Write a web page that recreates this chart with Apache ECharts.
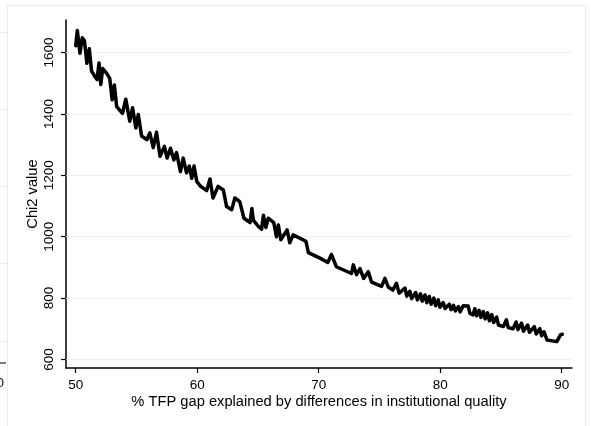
<!DOCTYPE html>
<html>
<head>
<meta charset="utf-8">
<script src="https://cdn.jsdelivr.net/npm/echarts@6/dist/echarts.min.js"></script>
<style>
  html, body { margin: 0; padding: 0; background: #fff; }
  #chart { width: 591px; height: 426px; }
</style>
</head>
<body>
<div id="chart"></div>
<script>
// x: % TFP gap explained, y: Chi2 value
const gapShare = [
  50.0, 50.13, 50.35, 50.54, 50.72, 50.92, 51.12, 51.3, 51.6, 51.75,
  51.92, 52.06, 52.22, 52.55, 52.8, 53.0, 53.18, 53.37, 53.85, 54.12,
  54.45, 54.68, 54.95, 55.15, 55.42, 55.85, 56.1, 56.38, 56.65, 56.94,
  57.3, 57.52, 57.8, 58.08, 58.3, 58.62, 58.85, 59.12, 59.35, 59.55,
  59.74, 59.96, 60.25, 60.78, 61.05, 61.3, 61.72, 62.15, 62.42, 62.84,
  63.1, 63.5, 63.85, 64.35, 64.5, 64.62, 65.02, 65.3, 65.45, 65.65,
  65.85, 66.3, 66.52, 66.68, 66.88, 67.4, 67.62, 67.9, 68.95, 69.15,
  70.1, 70.75, 71.05, 71.45, 72.7, 72.85, 73.12, 73.4, 73.7, 74.08,
  74.35, 75.18, 75.45, 75.72, 76.1, 76.4, 76.62, 77.1, 77.25, 77.5,
  77.65, 77.98, 78.12, 78.38, 78.52, 78.75, 78.9, 79.1, 79.25, 79.48,
  79.62, 79.84, 79.98, 80.25, 80.4, 80.75, 80.9, 81.1, 81.25, 81.5,
  81.65, 81.9, 82.3, 82.45, 82.7, 82.85, 83.0, 83.2, 83.35, 83.55,
  83.7, 83.9, 84.05, 84.25, 84.4, 84.65, 84.8, 85.2, 85.45, 85.6,
  86.0, 86.25, 86.4, 86.7, 86.85, 87.2, 87.35, 87.75, 87.9, 88.2,
  88.35, 88.55, 88.8, 89.6, 89.75, 89.9, 90.05
];
const chi2Values = [
  1622, 1672, 1598, 1648, 1638, 1565, 1612, 1540, 1520, 1512,
  1566, 1496, 1548, 1532, 1516, 1446, 1494, 1424, 1402, 1448,
  1376, 1420, 1354, 1398, 1328, 1316, 1338, 1290, 1340, 1262,
  1294, 1256, 1288, 1250, 1274, 1212, 1256, 1208, 1230, 1190,
  1230, 1180, 1165, 1150, 1188, 1126, 1164, 1152, 1098, 1088,
  1126, 1114, 1060, 1046, 1092, 1054, 1034, 1024, 1070, 1030,
  1060, 1046, 1000, 1038, 990, 1022, 980, 1006, 985, 948,
  930, 916, 942, 902, 880, 908, 876, 896, 864, 886,
  852, 838, 864, 836, 826, 848, 816, 832, 806, 822,
  798, 818, 794, 814, 790, 810, 785, 805, 780, 800,
  775, 794, 770, 785, 766, 780, 762, 776, 758, 772,
  755, 775, 774, 750, 745, 765, 742, 760, 737, 756,
  732, 752, 726, 746, 720, 738, 712, 707, 729, 704,
  700, 722, 697, 718, 692, 712, 688, 707, 683, 700,
  677, 690, 663, 658, 664, 680, 682
];

// 坐标轴刻度
const xTicks = [50, 60, 70, 80, 90];
const yTicks = [600, 800, 1000, 1200, 1400, 1600];

const chart = echarts.init(document.getElementById('chart'));
const font = 'Liberation Sans, Arial, Helvetica, sans-serif';
const faint = '#e4edf0';

const seriesData = gapShare.map((x, i) => [x, chi2Values[i]]);

chart.setOption({
  backgroundColor: '#fff',
  animation: false,
  // 左侧被裁掉的另一幅图的残留边框
  graphic: [
    { type: 'line', shape: { x1: 7, y1: 5.5, x2: 585, y2: 5.5 }, style: { stroke: faint, lineWidth: 1 } },
    { type: 'line', shape: { x1: 7.5, y1: 5, x2: 7.5, y2: 426 }, style: { stroke: faint, lineWidth: 1 } },
    { type: 'line', shape: { x1: 585.5, y1: 5, x2: 585.5, y2: 426 }, style: { stroke: faint, lineWidth: 1 } },
    { type: 'line', shape: { x1: 0, y1: 32.5, x2: 7, y2: 32.5 }, style: { stroke: faint, lineWidth: 1 } },
    { type: 'line', shape: { x1: 0, y1: 109.5, x2: 7, y2: 109.5 }, style: { stroke: faint, lineWidth: 1 } },
    { type: 'line', shape: { x1: 0, y1: 186.5, x2: 7, y2: 186.5 }, style: { stroke: faint, lineWidth: 1 } },
    { type: 'line', shape: { x1: 0, y1: 263.5, x2: 7, y2: 263.5 }, style: { stroke: faint, lineWidth: 1 } },
    { type: 'line', shape: { x1: 0, y1: 341.5, x2: 7, y2: 341.5 }, style: { stroke: faint, lineWidth: 1 } },
    { type: 'line', shape: { x1: 0, y1: 363, x2: 6, y2: 363 }, style: { stroke: '#222', lineWidth: 1.2 } },
    { type: 'text', x: 4, y: 383, style: { text: '0', font: '13.5px ' + font, fill: '#111', align: 'right', verticalAlign: 'middle' } }
  ],
  grid: { left: 66, right: 19, top: 20, bottom: 58 },
  xAxis: {
    type: 'value',
    min: 49.2,
    max: 90.85,
    name: '% TFP gap explained by differences in institutional quality',
    nameLocation: 'middle',
    nameGap: 26,
    nameMoveOverlap: false,
    nameTextStyle: { color: '#000', fontSize: 14.7, fontFamily: font },
    axisLine: { lineStyle: { color: '#000', width: 1.5 } },
    axisTick: { customValues: xTicks, length: 5, lineStyle: { color: '#000', width: 1.2 } },
    axisLabel: { customValues: xTicks, color: '#000', fontSize: 13.5, fontFamily: font, margin: 10 },
    splitLine: { show: false }
  },
  yAxis: {
    type: 'value',
    min: 572,
    max: 1706,
    name: 'Chi2 value',
    nameLocation: 'middle',
    nameGap: 26,
    nameMoveOverlap: false,
    nameTextStyle: { color: '#000', fontSize: 14.7, fontFamily: font },
    axisLine: { show: true, lineStyle: { color: '#000', width: 1.5 } },
    axisTick: { show: true, customValues: yTicks, length: 5, lineStyle: { color: '#000', width: 1.2 } },
    axisLabel: {
      customValues: yTicks,
      rotate: 90,
      color: '#000',
      fontSize: 13.5,
      fontFamily: font,
      margin: 10,
      formatter: v => String(v)
    },
    splitLine: { show: false }
  },
  series: [
    {
      // 网格线（放在底层）
      type: 'line',
      data: [],
      zlevel: 0,
      silent: true,
      markLine: {
        silent: true,
        symbol: 'none',
        label: { show: false },
        lineStyle: { color: '#eaf2f3', width: 1, type: 'solid' },
        data: yTicks.map(v => ({ yAxis: v }))
      }
    },
    {
      name: 'Chi2',
      type: 'line',
      zlevel: 1,
      data: seriesData,
      showSymbol: false,
      lineStyle: { color: '#000', width: 3.5, join: 'round', cap: 'round' }
    }
  ]
});
</script>
</body>
</html>
